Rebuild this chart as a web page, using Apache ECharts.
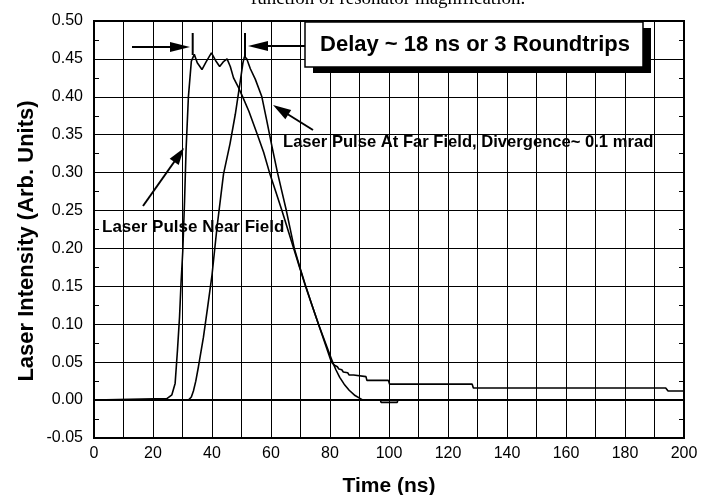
<!DOCTYPE html>
<html>
<head>
<meta charset="utf-8">
<script src="https://cdn.jsdelivr.net/npm/echarts@6/dist/echarts.min.js"></script>
<style>
html,body{margin:0;padding:0;background:#fff;}
#c{width:701px;height:495px;}
</style>
</head>
<body>
<div id="c"></div>
<script>
// ---- data ----
const nearT = [0, 24.7, 26.4, 27.5, 28.3, 29.0, 29.5, 30.1, 30.7, 31.2, 32.0, 33.0, 34.0, 35.0, 36.6, 38.0, 39.8, 41.2, 42.6, 43.8, 45.1, 46.2, 47.3, 49.0, 50.4, 52.5, 55.4, 57.5, 59.5, 61.6, 63.7, 65.7, 67.7, 69.7, 71.7, 73.9, 76.1, 78.5, 80.9, 82.0, 83.3, 84.8, 86.5, 88.5, 90.3, 91.2, 97.1, 97.3, 102.8, 103.0, 200];
const nearV = [0, 0.002, 0.007, 0.022, 0.066, 0.110, 0.154, 0.197, 0.263, 0.329, 0.400, 0.447, 0.456, 0.445, 0.436, 0.446, 0.458, 0.448, 0.440, 0.446, 0.450, 0.440, 0.425, 0.412, 0.400, 0.381, 0.350, 0.327, 0.300, 0.275, 0.250, 0.225, 0.200, 0.175, 0.150, 0.125, 0.100, 0.075, 0.050, 0.040, 0.030, 0.021, 0.013, 0.006, 0.002, 0.000, 0.000, -0.003, -0.003, 0.000, 0.000];
const farT = [0, 32.0, 33.0, 33.7, 34.5, 35.4, 37.1, 38.5, 40.0, 41.7, 43.9, 46.1, 47.9, 49.6, 50.5, 51.0, 51.8, 53.0, 54.7, 56.9, 58.6, 60.3, 62.2, 63.7, 65.2, 67.9, 69.8, 71.8, 73.9, 76.1, 78.3, 80.5, 81.5, 82.5, 83.0, 84.0, 84.5, 86.0, 86.5, 88.0, 88.3, 92.2, 92.5, 99.8, 100.2, 128.2, 128.6, 193.8, 194.6, 200];
const farV = [0, 0.000, 0.004, 0.012, 0.025, 0.044, 0.083, 0.122, 0.165, 0.228, 0.298, 0.338, 0.377, 0.421, 0.445, 0.453, 0.450, 0.437, 0.423, 0.400, 0.368, 0.335, 0.300, 0.275, 0.250, 0.200, 0.175, 0.150, 0.125, 0.100, 0.075, 0.050, 0.046, 0.044, 0.041, 0.040, 0.037, 0.036, 0.033, 0.033, 0.031, 0.031, 0.026, 0.026, 0.021, 0.021, 0.016, 0.016, 0.012, 0.012];
const xRange = [0, 200];
const yRange = [-0.05, 0.50];
const xLabelStep = 20;

const titleText = 'function of resonator magnification.';
const boxText = 'Delay ~ 18 ns or 3 Roundtrips';
const nearLabel = 'Laser Pulse Near Field';
const farLabel = 'Laser Pulse At Far Field, Divergence~ 0.1 mrad';
const xName = 'Time (ns)';
const yName = 'Laser Intensity (Arb. Units)';

// ---- chart ----
const SANS = '"Liberation Sans", Arial, sans-serif';
const chart = echarts.init(document.getElementById('c'), null, {renderer: 'canvas'});

function pairs(t, v) { return t.map((x, i) => [x, v[i]]); }

function arrow(x1, y1, x2, y2, hl, hw) {
  const dx = x2 - x1, dy = y2 - y1, L = Math.hypot(dx, dy);
  const ux = dx / L, uy = dy / L, px = -uy, py = ux;
  const bx = x2 - ux * hl, by = y2 - uy * hl;
  return [
    {type: 'line', z: 110, shape: {x1: x1, y1: y1, x2: bx + ux * 2, y2: by + uy * 2}, style: {stroke: '#000', lineWidth: 2}},
    {type: 'polygon', z: 110, shape: {points: [[x2, y2], [bx + px * hw, by + py * hw], [bx - px * hw, by - py * hw]]}, style: {fill: '#000'}}
  ];
}

const graphics = [
  {type: 'text', z: 120, x: 388, y: 9, style: {text: titleText, font: '19px "Liberation Serif", "Times New Roman", serif', fill: '#000', textAlign: 'center', textVerticalAlign: 'bottom'}},
  {type: 'rect', z: 100, shape: {x: 313, y: 28, width: 338, height: 45}, style: {fill: '#000'}},
  {type: 'rect', z: 101, shape: {x: 305, y: 22, width: 338, height: 45}, style: {fill: '#fff', stroke: '#000', lineWidth: 1.5}},
  {type: 'text', z: 102, x: 475, y: 45, style: {text: boxText, font: 'bold 22px ' + SANS, fill: '#000', textAlign: 'center', textVerticalAlign: 'middle'}},
  {type: 'text', z: 102, x: 102, y: 227, style: {text: nearLabel, font: 'bold 17px ' + SANS, fill: '#000', textAlign: 'left', textVerticalAlign: 'middle'}},
  {type: 'text', z: 102, x: 283, y: 142, style: {text: farLabel, font: 'bold 16.6px ' + SANS, fill: '#000', textAlign: 'left', textVerticalAlign: 'middle'}},
  {type: 'text', z: 102, x: 27, y: 241, rotation: Math.PI / 2, style: {text: yName, font: 'bold 22px ' + SANS, fill: '#000', textAlign: 'center', textVerticalAlign: 'middle'}},
  {type: 'line', z: 110, shape: {x1: 192.7, y1: 33, x2: 192.7, y2: 55}, style: {stroke: '#000', lineWidth: 2}},
  {type: 'line', z: 110, shape: {x1: 245, y1: 33, x2: 245, y2: 57}, style: {stroke: '#000', lineWidth: 2}}
].concat(
  arrow(132, 47, 190, 47, 20, 5),
  arrow(305, 46, 248, 46, 20, 5),
  arrow(143, 206, 184, 148, 17, 5.5),
  arrow(313, 130, 273, 105, 18, 5.5)
);

const option = {
  animation: false,
  backgroundColor: '#fff',
  grid: {left: 94, right: 17, top: 21, bottom: 57, containLabel: false, outerBoundsMode: 'none',
    show: true, borderColor: '#000', borderWidth: 2, backgroundColor: 'transparent'},
  xAxis: {
    type: 'value', min: xRange[0], max: xRange[1], interval: 10,
    axisLine: {show: true, lineStyle: {color: '#000', width: 2}},
    axisTick: {show: true, inside: true, length: 5, lineStyle: {color: '#000'}},
    axisLabel: {color: '#000', fontFamily: SANS, fontSize: 16, margin: 8,
      formatter: v => (v % xLabelStep === 0 ? String(v) : '')},
    splitLine: {show: true, lineStyle: {color: '#000', width: 1}},
    name: xName, nameLocation: 'middle', nameGap: 38,
    nameTextStyle: {color: '#000', fontFamily: SANS, fontSize: 21, fontWeight: 'bold'}
  },
  yAxis: [{
    type: 'value', min: yRange[0], max: yRange[1], interval: 0.05,
    axisLine: {show: true, lineStyle: {color: '#000', width: 2}},
    axisTick: {show: true, inside: true, length: 6, lineStyle: {color: '#000'}},
    minorTick: {show: true, splitNumber: 2, length: 5, lineStyle: {color: '#000'}},
    axisLabel: {color: '#000', fontFamily: SANS, fontSize: 16, margin: 11,
      formatter: v => v.toFixed(2)},
    splitLine: {show: true, lineStyle: {color: '#000', width: 1}}
  }, {
    type: 'value', position: 'right', min: yRange[0], max: yRange[1], interval: 0.05,
    axisLine: {show: true, lineStyle: {color: '#000', width: 2}},
    axisTick: {show: true, inside: true, length: 6, lineStyle: {color: '#000'}},
    minorTick: {show: true, splitNumber: 2, length: 5, lineStyle: {color: '#000'}},
    axisLabel: {show: false},
    splitLine: {show: false}
  }],
  series: [
    {type: 'line', name: 'Near Field', data: pairs(nearT, nearV), showSymbol: false, symbol: 'none',
      lineStyle: {color: '#000', width: 1.6}, z: 5},
    {type: 'line', name: 'Far Field', data: pairs(farT, farV), showSymbol: false, symbol: 'none',
      lineStyle: {color: '#000', width: 1.6}, z: 5}
  ],
  graphic: graphics
};
chart.setOption(option);
</script>
</body>
</html>
